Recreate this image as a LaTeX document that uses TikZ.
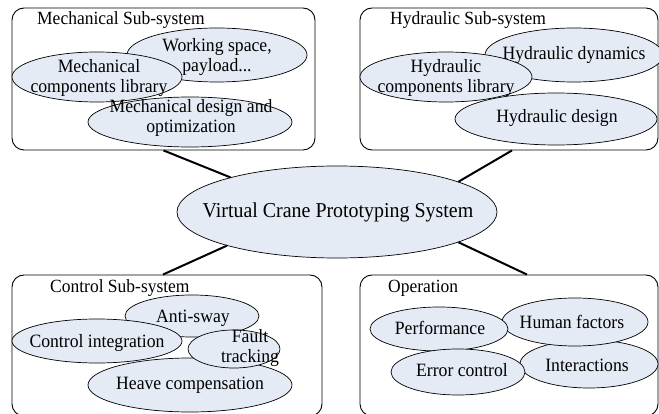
\documentclass[tikz,border=0pt]{standalone}
\usepackage{fontspec}
\setmainfont{Liberation Serif}[FakeStretch=0.94]
\usetikzlibrary{shapes.geometric}
\definecolor{bubfill}{RGB}{229,235,245}
\begin{document}
\begin{tikzpicture}[x=1pt,y=-1pt,
  box/.style={draw=black, line width=0.9pt, rounded corners=12pt, inner sep=0pt},
  bub/.style={ellipse, draw=black, line width=0.7pt, fill=bubfill, inner sep=0pt},
  txt/.style={font=\fontsize{18.8}{20}\selectfont, align=center, inner sep=0pt},
  ttl/.style={font=\fontsize{18.6}{20}\selectfont, anchor=base west, inner sep=0pt},
  link/.style={line width=2pt}]
\useasboundingbox (0,0) rectangle (659,414);

% group boxes
\node[box, minimum width=303pt, minimum height=142pt] (mech) at (163.5,79) {};
\node[box, minimum width=298pt, minimum height=142pt] (hyd) at (509,79) {};
\node[box, minimum width=310pt, minimum height=141pt] (ctrl) at (167,345.5) {};
\node[box, minimum width=298pt, minimum height=141pt] (oper) at (509,345.5) {};

% titles
\node[ttl] (tmech) at (37,25) {Mechanical Sub-system};
\node[ttl] (thyd) at (390,25) {Hydraulic Sub-system};
\node[ttl] (tctrl) at (50,292) {Control Sub-system};
\node[ttl] (toper) at (388,292) {Operation};

% mechanical
\node[bub, minimum width=180pt, minimum height=54pt] (m1) at (217,55) {};
\node[txt] (m1t) at (217,57) {Working space,\\payload...};
\node[bub, minimum width=170pt, minimum height=50pt] (m2) at (97,77) {};
\node[txt] (m2t) at (99,78) {Mechanical\\components library};
\node[bub, minimum width=204pt, minimum height=50pt] (m3) at (190,122) {};
\node[txt] (m3t) at (191,118) {Mechanical design and\\optimization};

% hydraulic
\node[bub, minimum width=178pt, minimum height=54pt] (h1) at (574,55) {};
\node[txt] (h1t) at (574,55) {Hydraulic dynamics};
\node[bub, minimum width=172pt, minimum height=50pt] (h2) at (446,77) {};
\node[txt] (h2t) at (446,78) {Hydraulic\\components library};
\node[bub, minimum width=202pt, minimum height=52pt] (h3) at (556,119) {};
\node[txt] (h3t) at (557,118) {Hydraulic design};

% control
\node[bub, minimum width=134pt, minimum height=42pt] (c1) at (192,316) {};
\node[txt] (c1t) at (193,318) {Anti-sway};
\node[bub, minimum width=204pt, minimum height=54pt] (c4) at (190,385) {};
\node[txt] (c4t) at (190,385) {Heave compensation};
\node[bub, minimum width=170pt, minimum height=44pt] (c2) at (97,341) {};
\node[txt] (c2t) at (97,343) {Control integration};
\node[bub, minimum width=92pt, minimum height=38pt] (c3) at (234,349) {};
\node[txt] (c3t) at (250,348) {Fault\\tracking};

% operation
\node[bub, minimum width=138pt, minimum height=48pt] (o4) at (589,364) {};
\node[txt] (o4t) at (587,365) {Interactions};
\node[bub, minimum width=146pt, minimum height=48pt] (o2) at (575,322) {};
\node[txt] (o2t) at (572,322) {Human factors};
\node[bub, minimum width=138pt, minimum height=44pt] (o1) at (439,329) {};
\node[txt] (o1t) at (440,328) {Performance};
\node[bub, minimum width=134pt, minimum height=46pt] (o3) at (458,372) {};
\node[txt] (o3t) at (462,370) {Error control};

% centre
\node[bub, minimum width=320pt, minimum height=92pt] (vc) at (337,212) {};
\node[font=\fontsize{21.2}{23}\selectfont, inner sep=0pt] (vct) at (338,212) {Virtual Crane Prototyping System};

% connectors
\draw[link] (mech.south) -- (vc.162);
\draw[link] ([xshift=3pt]hyd.south) -- (vc.14.5);
\draw[link] ([xshift=-4pt]ctrl.north) -- (vc.197);
\draw[link] ([xshift=18pt]oper.north) -- (vc.346);
\end{tikzpicture}
\end{document}
